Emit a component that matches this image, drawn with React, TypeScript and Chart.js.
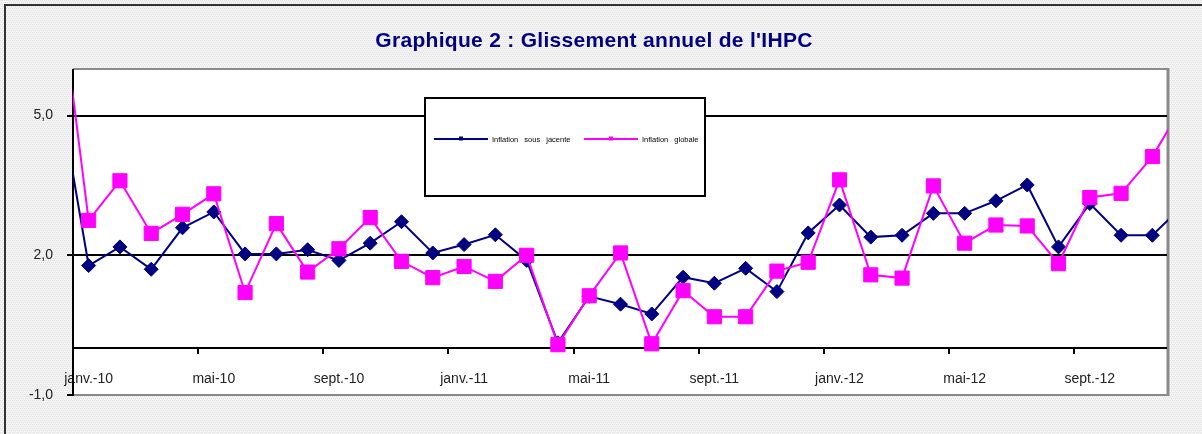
import React, { useEffect, useRef } from "react";
import { Chart, registerables } from "chart.js";

Chart.register(...registerables);

// Months, déc.-09 (partly off the left edge) to déc.-12 (partly off the right edge)
const months = [
  "déc.-09",
  "janv.-10", "févr.-10", "mars-10", "avr.-10", "mai-10", "juin-10", "juil.-10", "août-10", "sept.-10", "oct.-10", "nov.-10", "déc.-10",
  "janv.-11", "févr.-11", "mars-11", "avr.-11", "mai-11", "juin-11", "juil.-11", "août-11", "sept.-11", "oct.-11", "nov.-11", "déc.-11",
  "janv.-12", "févr.-12", "mars-12", "avr.-12", "mai-12", "juin-12", "juil.-12", "août-12", "sept.-12", "oct.-12", "nov.-12", "déc.-12",
];

const xTickLabels = ["janv.-10", "mai-10", "sept.-10", "janv.-11", "mai-11", "sept.-11", "janv.-12", "mai-12", "sept.-12"];
const yTickValues = [-1, 2, 5];
const gridValues = [2, 5];

const sousJacente = [
  5.7,
  1.78, 2.18, 1.7, 2.59, 2.93, 2.03, 2.03, 2.12, 1.89, 2.26, 2.72, 2.05,
  2.23, 2.44, 1.89, 0.12, 1.12, 0.95, 0.74, 1.53, 1.4, 1.72, 1.22, 2.48,
  3.08, 2.39, 2.43, 2.9, 2.9, 3.17, 3.51, 2.18, 3.11, 2.43, 2.43, 3.08,
];

const globale = [
  8.1,
  2.75, 3.6, 2.47, 2.88, 3.32, 1.2, 2.68, 1.64, 2.14, 2.81, 1.87, 1.52,
  1.76, 1.44, 2.0, 0.08, 1.13, 2.05, 0.1, 1.24, 0.68, 0.68, 1.66, 1.85,
  3.62, 1.58, 1.51, 3.49, 2.26, 2.65, 2.63, 1.82, 3.24, 3.33, 4.12, 5.25,
];

const TITLE = "Graphique 2 : Glissement annuel de l'IHPC";
const NAVY = "#000080";
const PINK = "#FF00FF";
const FONT = "'Liberation Sans', Arial, sans-serif";

function makePattern(ctx: CanvasRenderingContext2D) {
  const c = document.createElement("canvas");
  c.width = 4;
  c.height = 4;
  const g = c.getContext("2d")!;
  g.fillStyle = "#f5f5f5";
  g.fillRect(0, 0, 4, 4);
  g.fillStyle = "#e2e2e2";
  g.fillRect(0, 0, 1, 1);
  g.fillRect(2, 0, 1, 1);
  g.fillRect(1, 2, 1, 1);
  g.fillRect(3, 2, 1, 1);
  g.fillStyle = "#ebebeb";
  g.fillRect(1, 1, 1, 1);
  g.fillRect(3, 3, 1, 1);
  return ctx.createPattern(c, "repeat");
}

function line(ctx: CanvasRenderingContext2D, x1: number, y1: number, x2: number, y2: number) {
  ctx.beginPath();
  ctx.moveTo(x1, y1);
  ctx.lineTo(x2, y2);
  ctx.stroke();
}

const framePlugin = {
  id: "frame",
  beforeDraw(chart: any) {
    const { ctx, width, height, chartArea: a } = chart;
    ctx.save();
    ctx.fillStyle = makePattern(ctx) || "#ededed";
    ctx.fillRect(0, 0, width, height);
    ctx.strokeStyle = "#333333";
    ctx.lineWidth = 2;
    ctx.beginPath();
    ctx.moveTo(5, height + 10);
    ctx.lineTo(5, 5);
    ctx.lineTo(width + 10, 5);
    ctx.stroke();
    ctx.fillStyle = "#ffffff";
    ctx.fillRect(a.left, a.top, a.right - a.left, a.bottom - a.top);
    ctx.restore();
  },
  beforeDatasetsDraw(chart: any) {
    const { ctx, chartArea: a, scales } = chart;
    const x = scales.x;
    const y = scales.y;
    ctx.save();
    // plot border (grey)
    ctx.strokeStyle = "#8a8a8a";
    ctx.lineWidth = 2;
    line(ctx, a.left, a.top, a.right, a.top);
    line(ctx, a.left, a.bottom, a.right, a.bottom);
    ctx.lineWidth = 3;
    line(ctx, a.right, a.top - 1, a.right, a.bottom + 1);
    // gridlines
    ctx.strokeStyle = "#000000";
    ctx.lineWidth = 2;
    for (const v of gridValues) {
      const py = Math.round(y.getPixelForValue(v));
      line(ctx, a.left - 6, py, a.right - 1, py);
    }
    for (const v of yTickValues) {
      const py = Math.round(y.getPixelForValue(v));
      line(ctx, a.left - 6, py, a.left, py);
    }
    // horizontal axis at 0
    const p0 = Math.round(y.getPixelForValue(0));
    line(ctx, a.left, p0, a.right - 1, p0);
    for (let k = 0; k < xTickLabels.length; k++) {
      const px = Math.round(x.getPixelForValue(-0.5 + 4 * k));
      line(ctx, px, p0, px, p0 + 6);
    }
    // vertical axis
    line(ctx, a.left, a.top, a.left, a.bottom + 1);
    ctx.restore();
  },
  afterDraw(chart: any) {
    const { ctx } = chart;
    ctx.save();
    // title
    ctx.fillStyle = NAVY;
    ctx.font = `bold 21px ${FONT}`;
    (ctx as any).letterSpacing = "0.3px";
    ctx.textAlign = "center";
    ctx.textBaseline = "alphabetic";
    ctx.fillText(TITLE, 594, 47);
    (ctx as any).letterSpacing = "0px";

    // legend box
    const bx = 425, by = 98, bw = 280, bh = 98;
    ctx.fillStyle = "#ffffff";
    ctx.fillRect(bx, by, bw, bh);
    ctx.strokeStyle = "#000000";
    ctx.lineWidth = 2;
    ctx.strokeRect(bx, by, bw, bh);
    const ly = 139;
    const items = chart.data.datasets.map((d: any) => ({ label: d.label, color: d.borderColor }));
    const starts = [434, 584];
    ctx.font = `7.5px ${FONT}`;
    ctx.textAlign = "left";
    ctx.textBaseline = "middle";
    (ctx as any).wordSpacing = "4px";
    items.forEach((it: any, i: number) => {
      const sx = starts[i];
      ctx.strokeStyle = it.color;
      ctx.lineWidth = 2;
      line(ctx, sx, ly, sx + 54, ly);
      ctx.fillStyle = it.color;
      ctx.fillRect(sx + 25, ly - 2.5, 4, 4);
      ctx.fillStyle = "#000000";
      ctx.fillText(it.label, sx + 58, ly + 0.5);
    });
    ctx.restore();
  },
};

export default function App() {
  const ref = useRef<HTMLCanvasElement | null>(null);

  useEffect(() => {
    if (!ref.current) return;
    const chart = new Chart(ref.current, {
      type: "line",
      data: {
        datasets: [
          {
            label: "Inflation sous jacente",
            data: months.map((_, i) => ({ x: i - 1, y: sousJacente[i] })),
            borderColor: NAVY,
            backgroundColor: NAVY,
            borderWidth: 2,
            pointStyle: "rectRot",
            pointRadius: 7,
            pointBorderWidth: 1,
            pointBorderColor: NAVY,
            pointBackgroundColor: NAVY,
            tension: 0,
            clip: 0,
            order: 1,
          },
          {
            label: "Inflation globale",
            data: months.map((_, i) => ({ x: i - 1, y: globale[i] })),
            borderColor: PINK,
            backgroundColor: PINK,
            borderWidth: 2,
            pointStyle: "rect",
            pointRadius: 10,
            pointBorderWidth: 1,
            pointBorderColor: PINK,
            pointBackgroundColor: PINK,
            tension: 0,
            clip: 0,
            order: 0,
          },
        ],
      },
      options: {
        animation: false,
        responsive: false,
        maintainAspectRatio: false,
        events: [],
        layout: { padding: { top: 69, right: 34, bottom: 39, left: 0 } },
        plugins: {
          legend: { display: false },
          title: { display: false },
          tooltip: { enabled: false },
        },
        scales: {
          x: {
            type: "linear",
            position: { y: 0 } as any,
            min: -0.5,
            max: 34.5,
            grid: { display: false, drawTicks: false },
            border: { display: false },
            afterBuildTicks: (scale: any) => {
              scale.ticks = xTickLabels.map((_, k) => ({ value: 4 * k }));
            },
            ticks: {
              autoSkip: false,
              maxRotation: 0,
              minRotation: 0,
              padding: 22,
              color: "#222222",
              font: { family: FONT, size: 14 },
              callback: (v: any) => xTickLabels[Math.round(Number(v) / 4)] ?? "",
            },
          },
          y: {
            type: "linear",
            min: -1,
            max: 6,
            grid: { display: false, drawTicks: false },
            border: { display: false },
            afterBuildTicks: (scale: any) => {
              scale.ticks = yTickValues.map((v) => ({ value: v }));
            },
            afterFit: (scale: any) => {
              scale.width = 73;
            },
            ticks: {
              padding: 20,
              color: "#222222",
              font: { family: FONT, size: 14 },
              callback: (v: any) => Number(v).toFixed(1).replace(".", ","),
            },
          },
        },
      },
      plugins: [framePlugin],
    });
    return () => chart.destroy();
  }, []);

  return (
    <div style={{ position: "fixed", left: 0, top: 0, width: 1202, height: 434 }}>
      <canvas ref={ref} width={1202} height={434} style={{ width: 1202, height: 434, display: "block" }} />
    </div>
  );
}
